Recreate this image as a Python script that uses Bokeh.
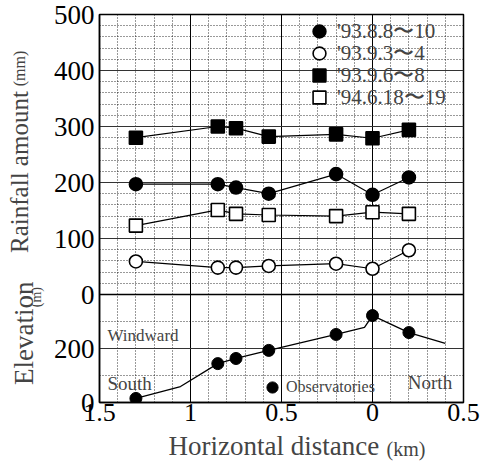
import numpy as np
from bokeh.plotting import figure
from bokeh.layouts import column, row
from bokeh.models import (Range1d, FixedTicker, CustomJSTickFormatter, Label,
                          Legend, LegendItem, Span)
from bokeh.embed import file_html
from bokeh.resources import INLINE

FONT = "Liberation Serif"

# Observatories: horizontal distance (km, positive = south) and elevation (m)
station_km = [1.30, 0.85, 0.75, 0.57, 0.20, 0.00, -0.20]
station_elev = [15, 144, 163, 193, 252, 322, 259]

# Rainfall totals (mm) at each observatory
rain_930808 = [197, 197, 191, 180, 215, 178, 209]
rain_930903 = [59, 48, 48, 51, 55, 46, 79]
rain_930906 = [280, 300, 297, 282, 286, 279, 294]
rain_940618 = [123, 151, 144, 142, 140, 147, 144]
series_labels = ["'93.8.8\u301c10", "'93.9.3\u301c4", "'93.9.6\u301c8", "'94.6.18\u301c19"]

# Ground surface profile along the section
profile_km = [1.30, 1.055, 0.85, 0.75, 0.57, 0.20, 0.044, 0.00, -0.20, -0.40]
profile_elev = [15, 59, 144, 163, 193, 252, 278, 322, 259, 219]

x_ticks = [1.5, 1.0, 0.5, 0.0, -0.5]
rain_ticks = [0, 100, 200, 300, 400, 500]
elev_ticks = [0, 200]
elev_grid = [200]
elev_minor = [100, 300]

# Two stacked panels share one frame: rainfall on top, elevation below.
RAIN_PX, ELEV_PX = 280, 108          # frame heights of the two panels
RAIN_TOP = 500
ELEV_TOP = 400
rain_lo = -RAIN_TOP * ELEV_PX / RAIN_PX
elev_hi = ELEV_TOP * (RAIN_PX + ELEV_PX) / ELEV_PX


def elev_to_rain(e):
    return rain_lo + e / elev_hi * (RAIN_TOP - rain_lo)


x_minor = [round(1.5 - 0.1 * i, 1) for i in range(21)]
x_minor = [v for v in x_minor if v not in x_ticks]
rain_minor = [v for v in range(0, RAIN_TOP + 1, 20) if v % 100]

W, H = 494, 462
LEFT_W = 50
BOTTOM_BORDER = 29
PH = 14 + RAIN_PX + ELEV_PX + BOTTOM_BORDER
p = figure(width=W - LEFT_W, height=PH,
           x_range=Range1d(1.5, -0.5), y_range=Range1d(rain_lo, RAIN_TOP),
           output_backend="svg", toolbar_location=None,
           min_border_left=97 - LEFT_W, min_border_right=31,
           min_border_top=14, min_border_bottom=BOTTOM_BORDER)
p.extra_y_ranges = {"elev": Range1d(0, elev_hi)}

# grids
p.xgrid.ticker = FixedTicker(ticks=x_ticks, minor_ticks=x_minor)
p.xgrid.grid_line_color = "black"
p.xgrid.grid_line_width = 1
p.xgrid.minor_grid_line_color = "black"
p.xgrid.minor_grid_line_dash = "1 2"
p.xgrid.minor_grid_line_alpha = 0.8
p.ygrid.ticker = FixedTicker(
    ticks=rain_ticks[1:-1] + [elev_to_rain(e) for e in elev_grid],
    minor_ticks=rain_minor + [elev_to_rain(e) for e in elev_minor])
p.ygrid.grid_line_color = "#333333"
p.ygrid.grid_line_width = 1
p.ygrid.minor_grid_line_color = "black"
p.ygrid.minor_grid_line_dash = "1 2"
p.ygrid.minor_grid_line_alpha = 0.8
p.outline_line_color = "black"
p.outline_line_width = 1.5
p.outline_line_alpha = 1
p.add_layout(Span(location=0, dimension="width", line_color="black", line_width=1.5))

# axes
for ax, size in ((p.xaxis[0], "26px"), (p.yaxis[0], "27px")):
    ax.major_label_text_font = FONT
    ax.major_label_text_font_size = size
    ax.major_label_text_color = "black"
    ax.major_tick_in = 0
    ax.major_tick_out = 0
    ax.minor_tick_in = 0
    ax.minor_tick_out = 0
    ax.axis_line_color = "black"
    ax.axis_line_width = 1.5

p.xaxis.ticker = FixedTicker(ticks=x_ticks)
p.xaxis.formatter = CustomJSTickFormatter(code="return String(Math.abs(tick));")
p.xaxis.major_label_standoff = 1

p.yaxis.ticker = FixedTicker(ticks=rain_ticks + [elev_to_rain(e) for e in elev_ticks])
p.yaxis.formatter = CustomJSTickFormatter(
    args=dict(lo=rain_lo, hi=RAIN_TOP, ehi=elev_hi),
    code="""
    if (tick >= -1e-6) return tick.toFixed(0);
    return Math.round((tick - lo) / (hi - lo) * ehi).toFixed(0);
    """)
p.yaxis.major_label_standoff = 5

# rainfall series
series = [
    (rain_930808, "circle", "black"),
    (rain_930903, "circle", "white"),
    (rain_930906, "square", "black"),
    (rain_940618, "square", "white"),
]
row_centres = [31, 53, 75, 97]
for (vals, mk, fill), lab, yc in zip(series, series_labels, row_centres):
    p.line(station_km, vals, line_color="black", line_width=1.2)
    r = p.scatter(station_km, vals, marker=mk, size=13, fill_color=fill,
                  line_color="black", line_width=1.6)
    leg = Legend(items=[LegendItem(label=lab, renderers=[r])],
                 location=(204, 402 - (yc + 16)), glyph_width=32, glyph_height=32,
                 label_standoff=2, padding=0, margin=0,
                 border_line_color=None, background_fill_alpha=0,
                 label_text_font=FONT, label_text_font_size="21px")
    p.add_layout(leg, "center")

# elevation profile and observatories
p.line(profile_km, profile_elev, y_range_name="elev", line_color="black", line_width=1.3)
obs = p.scatter(station_km, station_elev, y_range_name="elev", marker="circle", size=12,
                fill_color="black", line_color="black")
leg2 = Legend(items=[LegendItem(label="Observatories", renderers=[obs])],
              location=(159, 1), glyph_width=28, glyph_height=28, label_standoff=0,
              padding=0, margin=0, border_line_color=None, background_fill_alpha=0,
              label_text_font=FONT, label_text_font_size="16px")
p.add_layout(leg2, "center")

for txt, x, y, size in [("Windward", 1.456, 248, "17px"),
                        ("South", 1.456, 70, "19px"),
                        ("North", -0.194, 74, "19px")]:
    p.add_layout(Label(x=x, y=y, y_range_name="elev", text=txt, text_align="left",
                       text_baseline="middle", text_font=FONT, text_font_size=size))


def strip(width, height):
    f = figure(width=width, height=height, x_range=Range1d(0, width),
               y_range=Range1d(0, height), output_backend="svg", toolbar_location=None,
               x_axis_location=None, y_axis_location=None, min_border=0)
    f.grid.visible = False
    f.outline_line_color = None
    return f


# axis titles: a strip left of the frame and one below, in page pixels
left = strip(LEFT_W, PH)
for txt, cx, cy, size in [("Rainfall amount", 18.5, 175, "25px"),
                          ("(mm)", 19, 60, "16px"),
                          ("Elevation", 23, 354, "27px"),
                          ("(m)", 36, 314, "14px")]:
    left.add_layout(Label(x=cx, y=PH - cy, text=txt, angle=np.pi / 2, text_align="center",
                          text_baseline="middle", text_font=FONT, text_font_size=size))

BOT_H = H - PH
bottom = strip(W, BOT_H)
for txt, x0, cy, size in [("Horizontal distance", 168, 445.9, "27px"),
                          ("(km)", 386, 448.2, "20px")]:
    bottom.add_layout(Label(x=x0, y=H - cy, text=txt, text_align="left",
                            text_baseline="middle", text_font=FONT, text_font_size=size))

layout = column(row(left, p, spacing=0), bottom, spacing=0)
open("out.html", "w").write(file_html(layout, INLINE))
